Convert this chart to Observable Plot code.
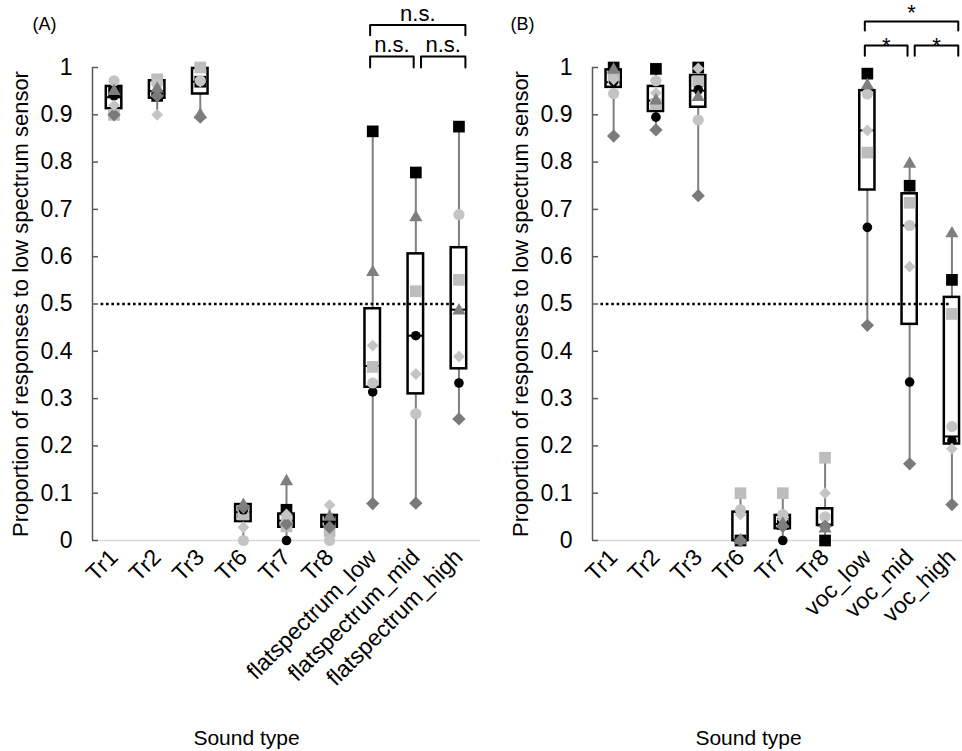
<!DOCTYPE html>
<html><head><meta charset="utf-8">
<script src="https://cdn.jsdelivr.net/npm/d3@7"></script>
<script src="https://cdn.jsdelivr.net/npm/@observablehq/plot@0.6"></script>
<style>
body{margin:0;background:#fff;}
#wrap{position:relative;width:962px;height:751px;overflow:hidden;background:#fff;}
#pa{position:absolute;left:0;top:0;}
#pb{position:absolute;left:500px;top:0;}
</style></head><body><div id="wrap"><div id="pa"></div><div id="pb"></div></div>
<script>
// ---------- Data ----------
const catsA = ["Tr1","Tr2","Tr3","Tr6","Tr7","Tr8","flatspectrum_low","flatspectrum_mid","flatspectrum_high"];
const catsB = ["Tr1","Tr2","Tr3","Tr6","Tr7","Tr8","voc_low","voc_mid","voc_high"];
const yTicks = [0, 0.1, 0.2, 0.3, 0.4, 0.5, 0.6, 0.7, 0.8, 0.9, 1];

// Panel A: individual subjects
const A_blackSquare  = [0.95, 0.94, 0.97, 0.06, 0.065, 0.04, 0.865, 0.778, 0.875];
const A_lightSquare  = [0.90, 0.975, 1.00, 0.055, 0.03, 0.02, 0.367, 0.527, 0.551];
const A_triangle     = [0.95, 0.955, 0.90, 0.075, 0.125, 0.05, 0.567, 0.683, 0.486];
const A_lightCircle  = [0.972, 0.965, 0.972, 0.0, 0.045, 0.0, 0.333, 0.268, 0.689];
const A_blackCircle  = [0.94, 0.95, 0.97, 0.065, 0.0, 0.03, 0.314, 0.433, 0.333];
const A_lightDiamond = [0.92, 0.90, 0.97, 0.028, 0.055, 0.075, 0.412, 0.352, 0.389];
const A_darkDiamond  = [0.90, 0.94, 0.895, 0.07, 0.035, 0.028, 0.078, 0.079, 0.257];
// Panel A: box statistics
const A_q1  = [0.913, 0.935, 0.944, 0.04, 0.028, 0.028, 0.324, 0.31, 0.363];
const A_med = [0.937, 0.95, 0.97, 0.06, 0.042, 0.04, 0.369, 0.433, 0.488];
const A_q3  = [0.96, 0.972, 0.998, 0.076, 0.056, 0.053, 0.49, 0.606, 0.619];

// Panel B: individual subjects
const B_blackSquare  = [1.0, 0.997, 1.0, 0.0, 0.035, 0.0, 0.987, 0.75, 0.551];
const B_lightSquare  = [0.98, 0.923, 0.971, 0.1, 0.1, 0.175, 0.82, 0.714, 0.479];
const B_triangle     = [0.995, 0.93, 0.937, 0.0, 0.035, 0.025, 0.962, 0.796, 0.649];
const B_lightCircle  = [0.945, 0.972, 0.889, 0.065, 0.055, 0.05, 0.944, 0.666, 0.241];
const B_blackCircle  = [0.97, 0.895, 0.953, 0.0, 0.0, 0.03, 0.662, 0.335, 0.211];
const B_lightDiamond = [0.975, 0.946, 0.998, 0.055, 0.045, 0.1, 0.867, 0.579, 0.194];
const B_darkDiamond  = [0.855, 0.868, 0.729, 0.0, 0.03, 0.03, 0.455, 0.162, 0.076];
// Panel B: box statistics
const B_q1  = [0.958, 0.907, 0.916, 0.0, 0.025, 0.032, 0.741, 0.457, 0.204];
const B_med = [0.969, 0.93, 0.951, 0.0, 0.035, 0.032, 0.867, 0.666, 0.22];
const B_q3  = [0.995, 0.96, 0.983, 0.06, 0.053, 0.067, 0.951, 0.733, 0.514];

// Significance comparisons [from, to, label, level]
const compA = [["flatspectrum_low","flatspectrum_mid","n.s.",1],["flatspectrum_mid","flatspectrum_high","n.s.",1],["flatspectrum_low","flatspectrum_high","n.s.",2]];
const compB = [["voc_low","voc_mid","*",1],["voc_mid","voc_high","*",1],["voc_low","voc_high","*",2]];

const chanceLevel = 0.5;
const yLabel = "Proportion of responses to low spectrum sensor";
const xLabel = "Sound type";

// ---------- Styles ----------
const FONT = "'Liberation Sans', Arial, sans-serif";
const subjectStyles = [
  {symbol:"square",   fill:"#000000", r:6.6},
  {symbol:"square",   fill:"#bdbdbd", r:6.6},
  {symbol:"circle",   fill:"#000000", r:4.8},
  {symbol:"circle",   fill:"#c4c4c4", r:5.6},
  {symbol:"diamond2", fill:"#7a7a7a", r:6.0},
  {symbol:"diamond2", fill:"#c4c4c4", r:5.3},
  {symbol:"triangle", fill:"#7f7f7f", r:4.9}
];

function panel(cfg) {
  const {cats, subjects, q1, med, q3, comps, letter, width, marginRight, xMax, dotted, br, xLabelDx, letterPos} = cfg;
  const idx = c => cats.indexOf(c);
  const boxes = cats.map((c, i) => ({i, q1: q1[i], med: med[i], q3: q3[i]}));
  const whisk = cats.map((c, i) => {
    const vals = subjects.map(s => s[i]);
    return {i, lo: d3.min(vals), hi: d3.max(vals)};
  });
  const bw = 0.18;
  const pts = [];
  const txt = [];
  comps.forEach(([a, b, label, level], k) => {
    const ia = idx(a), ib = idx(b);
    const x1 = ia + (ia === 7 ? 0.12 : -0.06);
    const x2 = ib + (ib === 7 ? -0.05 : 0.15);
    const yl = br.line[level - 1], yg = br.leg[level - 1];
    pts.push({k, x: x1, y: yg}, {k, x: x1, y: yl}, {k, x: x2, y: yl}, {k, x: x2, y: yg});
    txt.push({x: (x1 + x2) / 2, y: yl, label, level});
  });

  const dotMarks = subjects.map((arr, s) =>
    Plot.dot(cats.map((c, i) => ({i, v: arr[i]})), {x: "i", y: "v", symbol: subjectStyles[s].symbol, fill: subjectStyles[s].fill, r: subjectStyles[s].r, stroke: "none"})
  );

  return Plot.plot({
    width, height: 751,
    marginLeft: 92, marginRight, marginTop: 67, marginBottom: 211,
    style: {fontFamily: FONT, background: "transparent", overflow: "visible"},
    x: {type: "linear", domain: [-0.5, xMax]},
    y: {domain: [0, 1]},
    marks: [
      Plot.ruleY([0], {stroke: "#d9d9d9", strokeWidth: 1.5}),
      Plot.ruleX([-0.5], {y1: 0, y2: 1, stroke: "#595959", strokeWidth: 1.5}),
      Plot.ruleY(yTicks, {y: d => d, x1: -0.5, x2: -0.5 + 6 / cfg.step, stroke: "#595959", strokeWidth: 1.5}),
      Plot.axisY({ticks: yTicks, tickSize: 0, tickPadding: 20, fontSize: 23, tickFormat: d => String(d), label: null}),
      Plot.axisX({ticks: d3.range(cats.length), tickFormat: i => cats[i], tickRotate: -45, tickSize: 0, tickPadding: 13, fontSize: 23, label: null}),
      Plot.ruleX(whisk, {x: "i", y1: "lo", y2: "hi", stroke: "#7f7f7f", strokeWidth: 2}),
      Plot.rect(boxes, {x1: d => d.i - bw, x2: d => d.i + bw, y1: "q1", y2: "q3", fill: "white", stroke: "black", strokeWidth: 2.5}),
      Plot.ruleY(boxes, {y: "med", x1: d => d.i - bw, x2: d => d.i + bw, stroke: "black", strokeWidth: 2}),
      Plot.ruleY([chanceLevel], {x1: dotted[0], x2: dotted[1], stroke: "black", strokeWidth: 2.6, strokeDasharray: "2.6 2.8"}),
      ...dotMarks,
      Plot.line(pts, {x: "x", y: "y", z: "k", stroke: "black", strokeWidth: 2, strokeLinejoin: "round", strokeLinecap: "round"}),
      Plot.text(txt.filter(d => d.level === 1), {x: "x", y: "y", text: "label", dy: br.dy[0], fontSize: 22, textAnchor: "middle"}),
      Plot.text(txt.filter(d => d.level === 2), {x: "x", y: "y", text: "label", dy: br.dy[1], fontSize: 22, textAnchor: "middle"}),
      Plot.text([yLabel], {frameAnchor: "left", rotate: -90, dx: -72, fontSize: 22, textAnchor: "middle", lineAnchor: "middle"}),
      Plot.text([xLabel], {frameAnchor: "bottom", dx: xLabelDx, dy: 198, fontSize: 21, textAnchor: "middle", lineAnchor: "middle"}),
      Plot.text([letter], {frameAnchor: "top-left", dx: letterPos[0] - 92, dy: letterPos[1] - 67, fontSize: 18, textAnchor: "middle", lineAnchor: "middle"})
    ]
  });
}

const plotA = panel({
  cats: catsA,
  subjects: [A_blackSquare, A_lightSquare, A_blackCircle, A_lightCircle, A_darkDiamond, A_lightDiamond, A_triangle],
  q1: A_q1, med: A_med, q3: A_q3, comps: compA, letter: "(A)",
  width: 500, marginRight: 20, xMax: 8.5, step: 43.1,
  dotted: [-0.3, 7.9],
  br: {line: [1.023, 1.09], leg: [1.0, 1.068], dy: [-12, -11]},
  xLabelDx: -40, letterPos: [44, 24]
});
const plotB = panel({
  cats: catsB,
  subjects: [B_blackSquare, B_lightSquare, B_blackCircle, B_lightCircle, B_darkDiamond, B_lightDiamond, B_triangle],
  q1: B_q1, med: B_med, q3: B_q3, comps: compB, letter: "(B)",
  width: 462, marginRight: 0, xMax: 8.25, step: 42.3,
  dotted: [-0.3, 7.98],
  br: {line: [1.0465, 1.097], leg: [1.025, 1.078], dy: [0, -9]},
  xLabelDx: -29, letterPos: [22, 24]
});
document.getElementById("pa").appendChild(plotA);
document.getElementById("pb").appendChild(plotB);
</script>
</body></html>
